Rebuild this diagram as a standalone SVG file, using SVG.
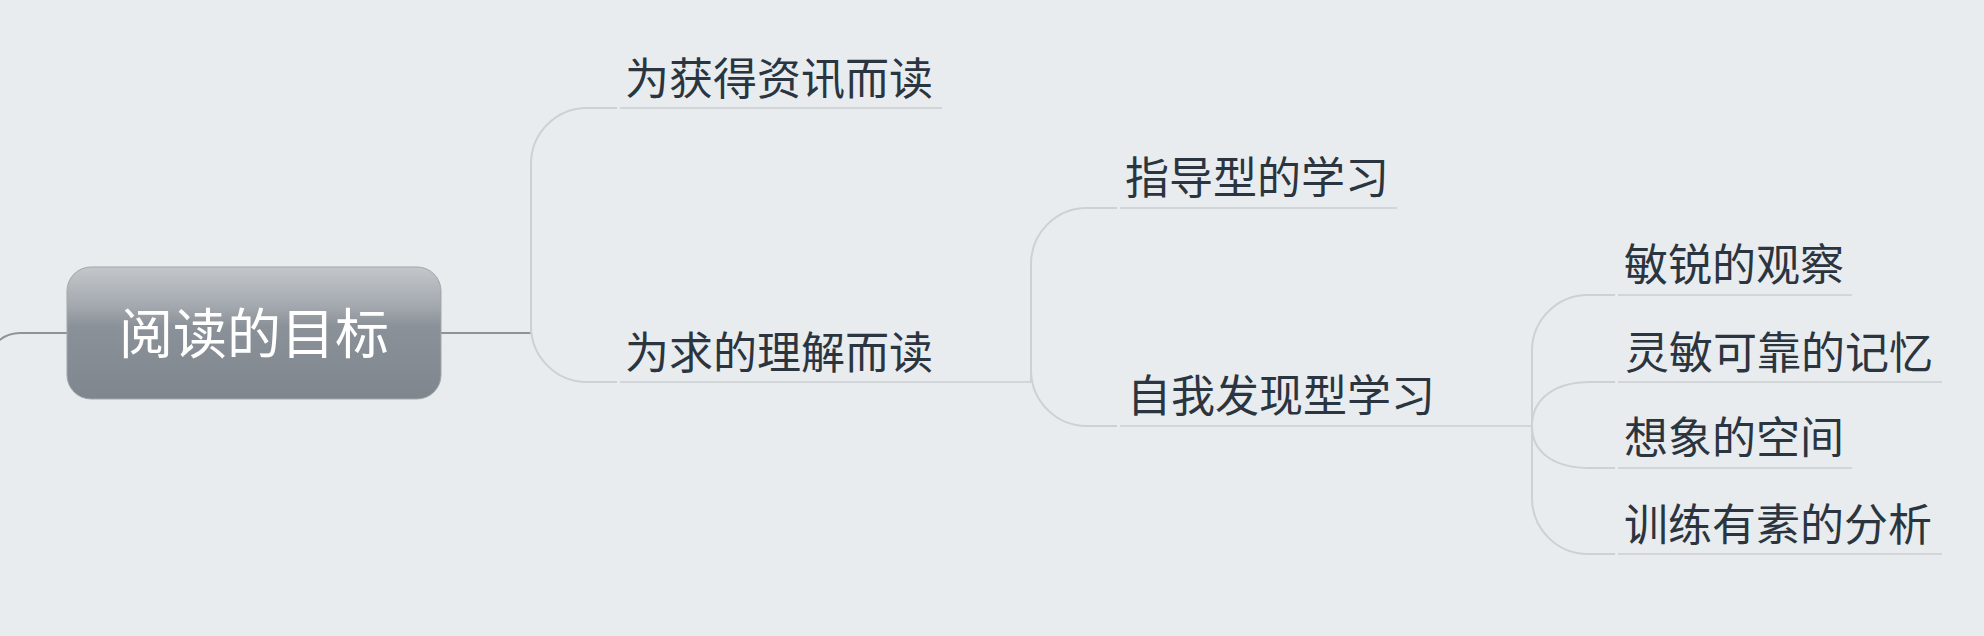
<svg xmlns="http://www.w3.org/2000/svg" width="1984" height="636" viewBox="0 0 1984 636">
  <defs>
    <linearGradient id="rootGrad" x1="0" y1="0" x2="0" y2="1">
      <stop offset="0" stop-color="#c3c7cb"/>
      <stop offset="0.3" stop-color="#a3a8ae"/>
      <stop offset="0.45" stop-color="#8b9198"/>
      <stop offset="1" stop-color="#7f868d"/>
    </linearGradient>
    <style>
      .t { font-family: "Noto Sans CJK SC", "Noto Sans", sans-serif; font-size: 44px; fill: #2b3540; }
      .rt { font-family: "Noto Sans CJK SC", "Noto Sans", sans-serif; font-size: 54px; fill: #ffffff; }
      .ul { stroke: #d2d6d9; stroke-width: 2; fill: none; }
      .cv { stroke: #cdd1d4; stroke-width: 2; fill: none; }
      .main { stroke: #8e9399; stroke-width: 2; fill: none; }
    </style>
  </defs>
  <rect width="1984" height="636" fill="#e8ecef"/>

  <g id="connectors">
    <path class="main" d="M-6,346 Q4,333 20,333 L67,333"/>
    <path class="main" d="M441,333 L531,333"/>
    <path class="cv" d="M531,333 L531,164 A56,56 0 0 1 587,108 L617,108"/>
    <path class="cv" d="M531,333 L531,326 A56,56 0 0 0 587,382 L617,382"/>
    <path class="ul" d="M942,382 L1031,382"/>
    <path class="cv" d="M1031,382 L1031,264 A56,56 0 0 1 1087,208 L1117,208"/>
    <path class="cv" d="M1031,382 L1031,370 A56,56 0 0 0 1087,426 L1117,426"/>
    <path class="ul" d="M1442,426 L1532,426"/>
    <path class="cv" d="M1532,426 L1532,351 A56,56 0 0 1 1588,295 L1615,295"/>
    <path class="cv" d="M1532,426 C1532,398 1556,382 1590,382 L1615,382"/>
    <path class="cv" d="M1532,426 C1532,454 1556,468 1590,468 L1615,468"/>
    <path class="cv" d="M1532,426 L1532,498 A56,56 0 0 0 1588,554 L1615,554"/>
  </g>

  <g id="root">
    <rect x="67" y="267" width="374" height="132" rx="24" ry="24" fill="url(#rootGrad)" stroke="#a2a7ac" stroke-width="1"/>
    <text class="rt" x="254" y="354" text-anchor="middle">阅读的目标</text>
  </g>

  <g id="n-info">
    <text class="t" x="625" y="95">为获得资讯而读</text>
    <line class="ul" x1="620" y1="108" x2="942" y2="108"/>
  </g>
  <g id="n-understand">
    <text class="t" x="625" y="369">为求的理解而读</text>
    <line class="ul" x1="620" y1="382" x2="942" y2="382"/>
  </g>
  <g id="n-guided">
    <text class="t" x="1125" y="194">指导型的学习</text>
    <line class="ul" x1="1120" y1="208" x2="1397" y2="208"/>
  </g>
  <g id="n-discovery">
    <text class="t" x="1127" y="412">自我发现型学习</text>
    <line class="ul" x1="1120" y1="426" x2="1442" y2="426"/>
  </g>
  <g id="n-observe">
    <text class="t" x="1624" y="281">敏锐的观察</text>
    <line class="ul" x1="1618" y1="295" x2="1852" y2="295"/>
  </g>
  <g id="n-memory">
    <text class="t" x="1625" y="369">灵敏可靠的记忆</text>
    <line class="ul" x1="1618" y1="382" x2="1942" y2="382"/>
  </g>
  <g id="n-imagine">
    <text class="t" x="1624" y="454">想象的空间</text>
    <line class="ul" x1="1618" y1="468" x2="1852" y2="468"/>
  </g>
  <g id="n-analysis">
    <text class="t" x="1624" y="541">训练有素的分析</text>
    <line class="ul" x1="1618" y1="554" x2="1942" y2="554"/>
  </g>
</svg>
